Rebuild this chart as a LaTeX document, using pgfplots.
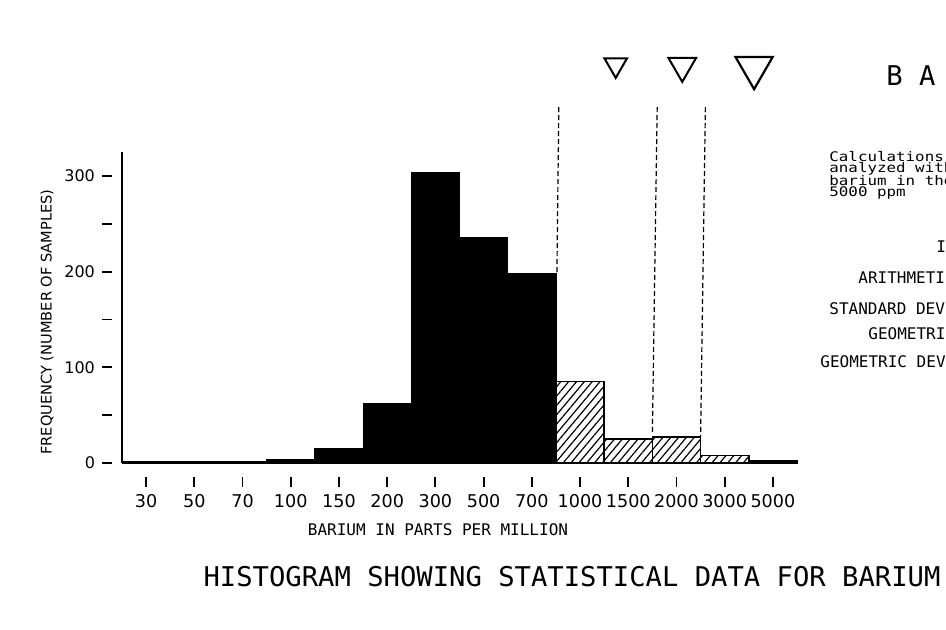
\documentclass[border=0pt]{standalone}
\usepackage{fontspec}
\setmainfont{DejaVu Sans}
\newfontfamily\monof{DejaVu Sans Mono}
\newfontfamily\monow[FakeStretch=1.2]{DejaVu Sans Mono}
\usepackage{pgfplots}
\pgfplotsset{compat=1.18}
\usetikzlibrary{patterns.meta}

\begin{document}
\begin{tikzpicture}
% frame in reference pixels (1px = 0.5pt, y downwards)
\begin{scope}[x=0.5pt,y=-0.5pt]
\path[use as bounding box] (0,0) rectangle (946,630);
\end{scope}
\begin{axis}[
  at={(61pt,-231.5pt)}, anchor=south west,
  scale only axis, width=337.5pt, height=155.5pt,
  xmin=-0.5, xmax=13.5, ymin=0, ymax=325,
  clip=false,
  axis lines=left,
  axis line style={-, line width=1pt},
  x axis line style={draw=none},
  tick align=outside,
  major tick length=5pt,
  xtick={0,...,13},
  xticklabels={30,50,70,100,150,200,300,500,700,1000,1500,2000,3000,5000},
  ytick={0,50,...,300},
  yticklabels={0,,100,,200,,300},
  x tick style={yshift=-7pt, line width=0.9pt, black},
  y tick style={xshift=-5pt, line width=0.9pt, black},
  xticklabel style={font=\fontsize{8.8}{8.8}\selectfont, yshift=-7pt},
  yticklabel style={font=\fontsize{8}{8}\selectfont, xshift=-5pt},
  /pgf/number format/assume math mode=true,
]
\addplot[ybar, bar width=1, bar shift=0pt, fill=black, draw=black]
  coordinates {(0,2)(1,2)(2,2)(3,4)(4,15)(5,62)(6,304)(7,236)(8,198)};
\addplot[ybar, bar width=1, bar shift=0pt, draw=black, line width=0.8pt,
  pattern={Lines[angle=50,distance=3pt,line width=0.6pt]}]
  coordinates {(9,85)(10,25)(11,27)(12,8)(13,2)};
% dashed reference lines
\addplot[black, line width=0.6pt, dash pattern=on 2.5pt off 1.5pt]
  coordinates {(8.56,372)(8.52,198)};
\addplot[black, line width=0.6pt, dash pattern=on 2.5pt off 1.5pt]
  coordinates {(10.6,372)(10.5,30)};
\addplot[black, line width=0.6pt, dash pattern=on 2.5pt off 1.5pt]
  coordinates {(11.6,372)(11.5,27)};
% triangles
\addplot[only marks, mark=triangle, mark size=6.5pt,
  mark options={rotate=180, line width=1pt, draw=black, fill=white}]
  coordinates {(9.74,416)};
\addplot[only marks, mark=triangle, mark size=8pt,
  mark options={rotate=180, line width=1pt, draw=black, fill=white}]
  coordinates {(11.12,415)};
\addplot[only marks, mark=triangle, mark size=10.7pt,
  mark options={rotate=180, line width=1.1pt, draw=black, fill=white}]
  coordinates {(12.61,413)};
\end{axis}
\begin{scope}[x=0.5pt,y=-0.5pt]
\clip (0,0) rectangle (946,630);
\node[rotate=90, font=\fontsize{7.3}{7.3}\selectfont] at (47,322) {FREQUENCY (NUMBER OF SAMPLES)};
\node[font=\monof\fontsize{8}{8}\selectfont] at (438,530) {BARIUM IN PARTS PER MILLION};
\node[font=\monof\fontsize{13.6}{13.6}\selectfont] at (572,577) {HISTOGRAM SHOWING STATISTICAL DATA FOR BARIUM};
\node[anchor=west, inner sep=0pt, font=\monof\fontsize{13.6}{13.6}\selectfont] at (886,76) {B A};
\begin{scope}[every node/.style={anchor=west, inner sep=0pt, font=\monow\fontsize{6.6}{6.6}\selectfont}]
\node at (829,157) {Calculations};
\node at (829,169) {analyzed with};
\node at (829,181) {barium in the};
\node at (829,193) {5000 ppm};
\end{scope}
\begin{scope}[every node/.style={anchor=west, inner sep=0pt, font=\monof\fontsize{8}{8}\selectfont}]
\node at (936,247) {I};
\node at (858,278) {ARITHMETIC};
\node at (829,309) {STANDARD DEV};
\node at (868,334) {GEOMETRIC};
\node at (820,362) {GEOMETRIC DEV};
\end{scope}
\end{scope}
\end{tikzpicture}
\end{document}
